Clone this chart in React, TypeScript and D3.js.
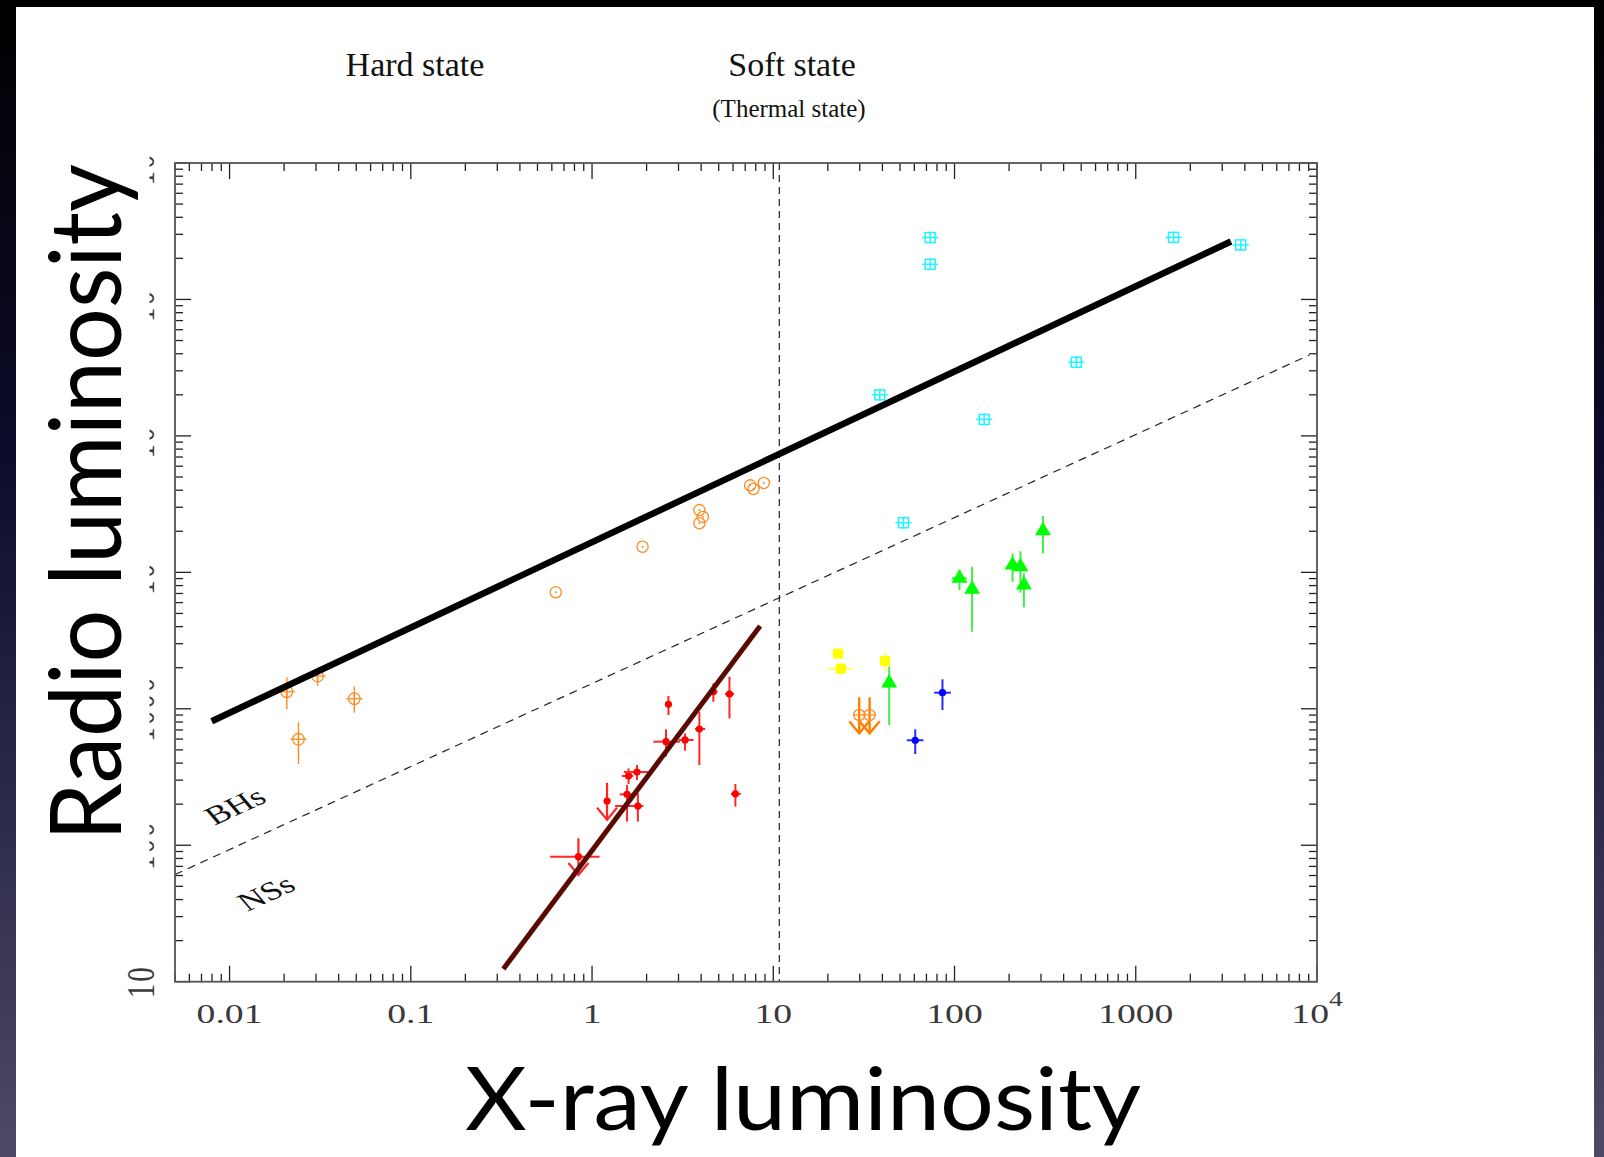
import React from "react";
import * as d3 from "d3";

const W = 1604;
const H = 1157;

// Axis ticks and their labels
const xTickValues = [0.01, 0.1, 1, 10, 100, 1000, 10000];
const xTickLabels = [["0.01", ""], ["0.1", ""], ["1", ""], ["10", ""], ["100", ""], ["1000", ""], ["10", "4"]];
const yTickValues = [10, 100, 1000, 1e4, 1e5, 1e6, 1e7];
const yTickLabels = [["10", ""], ["100", ""], ["1000", ""], ["10", "4"], ["10", "5"], ["10", "6"], ["10", "7"]];

// Hard-state black holes (circle with central dot)
const hardBH = [
  { x: 0.631, y: 7140 }, { x: 1.9, y: 15400 }, { x: 3.91, y: 28600 }, { x: 4.09, y: 25500 },
  { x: 3.91, y: 22900 }, { x: 7.45, y: 43400 }, { x: 7.78, y: 40800 }, { x: 8.87, y: 45200 },
];

// Low-luminosity black holes (circled cross) with error bars
const lowBH = [
  { x: 0.0207, y: 1334, ylo: 991, yhi: 1702 },
  { x: 0.0306, y: 1739, ylo: 1476, yhi: 1982 },
  { x: 0.0488, y: 1186, ylo: 936, yhi: 1452 },
  { x: 0.024, y: 598, ylo: 394, yhi: 796 },
];

// Cyan squared-cross sources
const cyanSrc = [
  { x: 73.4, y: 2.84e6 }, { x: 73.4, y: 1.81e6 }, { x: 1616, y: 2.85e6 }, { x: 3795, y: 2.51e6 },
  { x: 470, y: 3.47e5 }, { x: 38.7, y: 2.0e5 }, { x: 145.8, y: 1.32e5 }, { x: 52.2, y: 23100 },
];

// Hard-state neutron stars (red dots)
const redNS = [
  { x: 2.64, y: 1079, ylo: 901, yhi: 1241 },
  { x: 2.56, y: 574, xlo: 2.18, xhi: 3.06, ylo: 446, yhi: 708 },
  { x: 3.26, y: 591, xlo: 3.0, xhi: 3.63, ylo: 493, yhi: 661 },
  { x: 3.91, y: 711, xlo: 3.7, xhi: 4.21, ylo: 387, yhi: 952 },
  { x: 4.67, y: 1334, xlo: 4.48, xhi: 4.92, ylo: 1127, yhi: 1538 },
  { x: 5.73, y: 1283, xlo: 5.42, xhi: 6.08, ylo: 851, yhi: 1718 },
  { x: 6.18, y: 238, xlo: 5.83, xhi: 6.62, ylo: 192, yhi: 281 },
  { x: 1.59, y: 322, xlo: 1.46, xhi: 1.69, ylo: 281, yhi: 366 },
  { x: 1.77, y: 344, xlo: 1.5, xhi: 2.05, ylo: 301, yhi: 387 },
  { x: 1.56, y: 236, xlo: 1.42, xhi: 1.71, ylo: 149, yhi: 277 },
  { x: 1.79, y: 194, xlo: 1.34, xhi: 1.92, ylo: 149, yhi: 240 },
];

// Neutron-star upper limits (arrow points down to tip)
const redLimits = [
  { x: 1.21, y: 211, top: 287, tip: 154 },
  { x: 0.841, y: 82.4, xlo: 0.587, xhi: 1.1, top: 112.5, tip: 60.5 },
];

// Green triangles
const greenSrc = [
  { x: 106.5, y: 9040, xlo: 96.7, xhi: 117, ylo: 7430, yhi: 10400 },
  { x: 125, y: 7510, ylo: 3670, yhi: 11000 },
  { x: 209, y: 11300, ylo: 8540, yhi: 13800 },
  { x: 231, y: 11000, ylo: 7100, yhi: 14300 },
  { x: 241.5, y: 8080, ylo: 5540, yhi: 9840 },
  { x: 307.5, y: 20200, ylo: 13800, yhi: 25900 },
  { x: 43.6, y: 1545, ylo: 761, yhi: 2036 },
];

// Yellow squares
const yellowSrc = [
  { x: 22.8, y: 2535, xlo: 20.9, xhi: 24.4 },
  { x: 23.6, y: 1968, xlo: 20.1, xhi: 27.4, ylo: 1770, yhi: 2178 },
  { x: 41.4, y: 2240, ylo: 1901, yhi: 2577 },
];

// Blue dots
const blueSrc = [
  { x: 85.8, y: 1312, xlo: 77.2, xhi: 95.5, ylo: 980, yhi: 1645 },
  { x: 60.7, y: 588, xlo: 54.6, xhi: 67.4, ylo: 466, yhi: 708 },
];

// Soft-state black-hole upper limits
const orangeLimits = [
  { x: 29.8, y: 901, top: 1214, tip: 661 },
  { x: 34.0, y: 901, top: 1214, tip: 661 },
];

// Correlation lines
const bhCorrelation = [{ x: 0.00797, y: 811 }, { x: 3350, y: 2.66e6 }];
const bhNsDivide = [{ x: 0.005, y: 61 }, { x: 9100, y: 3.92e5 }];
const nsCorrelation = [{ x: 0.324, y: 12.4 }, { x: 8.46, y: 4045 }];
const stateBoundary = 10.8;

const X0 = 175, X1 = 1317, Y0 = 981.7, Y1 = 163;
const xS = d3.scaleLog().domain([0.005, 1e4]).range([X0, X1]);
const yS = d3.scaleLog().domain([10, 1e7]).range([Y0, Y1]);
const lineGen = d3.line<{ x: number; y: number }>().x((d) => xS(d.x)).y((d) => yS(d.y));

const isMajor = (v: number) => Math.abs(Math.log10(v) - Math.round(Math.log10(v))) < 1e-6;

type P = { x: number; y: number; xlo?: number; xhi?: number; ylo?: number; yhi?: number };

function ErrBars({ d, color, w = 1.6 }: { d: P; color: string; w?: number }) {
  const cx = xS(d.x), cy = yS(d.y);
  return (
    <g stroke={color} strokeWidth={w}>
      {d.xlo != null && d.xhi != null && <line x1={xS(d.xlo)} x2={xS(d.xhi)} y1={cy} y2={cy} />}
      {d.ylo != null && d.yhi != null && <line x1={cx} x2={cx} y1={yS(d.ylo)} y2={yS(d.yhi)} />}
    </g>
  );
}

function Arrow({ x, top, tip, color, w, hw, hh }: { x: number; top: number; tip: number; color: string; w: number; hw: number; hh: number }) {
  const px = xS(x), t = yS(tip);
  return (
    <g stroke={color} strokeWidth={w} fill="none">
      <line x1={px} x2={px} y1={yS(top)} y2={t} />
      <polyline points={`${px - hw},${t - hh} ${px},${t} ${px + hw},${t - hh}`} />
    </g>
  );
}

export default function App() {
  const ticks = xS.ticks();
  const yticks = yS.ticks();
  const serif = "'Liberation Serif', 'Times New Roman', serif";
  const STRETCH = 1.37;
  return (
    <svg width={W} height={H} style={{ position: "absolute", left: 0, top: 0 }} xmlns="http://www.w3.org/2000/svg">
      <defs>
        <linearGradient id="bg" x1="0" y1="0" x2="0" y2="1">
          <stop offset="0" stopColor="#000000" />
          <stop offset="0.4" stopColor="#0d0c2c" />
          <stop offset="1" stopColor="#4c4a66" />
        </linearGradient>
      </defs>
      <rect x={0} y={0} width={W} height={H} fill="url(#bg)" />
      <rect x={16} y={7} width={1578} height={H - 7} fill="#ffffff" />

      {/* state headings */}
      <g fontFamily={serif} fill="#111" textAnchor="middle">
        <text x={415} y={76} fontSize={34}>Hard state</text>
        <text x={792} y={76} fontSize={34}>Soft state</text>
        <text x={789} y={116.5} fontSize={25}>(Thermal state)</text>
      </g>

      {/* y tick labels */}
      <g fontFamily={serif} fill="#3a3a3a">
        {yTickValues.map((v, i) => (
          <g key={"yl" + i} transform={`translate(153.5,${yS(v)}) scale(${STRETCH},1) rotate(-90)`}>
            <text textAnchor="middle" fontSize={29} letterSpacing={2}>
              {yTickLabels[i][0]}
              {yTickLabels[i][1] && <tspan dy={-12} fontSize={20}>{yTickLabels[i][1]}</tspan>}
            </text>
          </g>
        ))}
      </g>
      {/* panel behind the vertical axis title */}
      <rect x={16} y={140} width={133.5} height={812} fill="#ffffff" />

      {/* vertical state boundary */}
      <line x1={xS(stateBoundary)} x2={xS(stateBoundary)} y1={Y1} y2={Y0} stroke="#222" strokeWidth={1.2} strokeDasharray="7,5" />
      {/* BH / NS dividing line */}
      <path d={lineGen(bhNsDivide) || ""} stroke="#222" strokeWidth={1.2} strokeDasharray="8,6" fill="none" />

      {/* ticks */}
      <g stroke="#222" strokeWidth={1.3}>
        {ticks.map((v, i) => {
          const L = isMajor(v) ? 16 : 8;
          const px = xS(v);
          return (
            <g key={"xt" + i}>
              <line x1={px} x2={px} y1={Y0} y2={Y0 - L} />
              <line x1={px} x2={px} y1={Y1} y2={Y1 + L} />
            </g>
          );
        })}
        {yticks.map((v, i) => {
          const L = isMajor(v) ? 16 : 8;
          const py = yS(v);
          return (
            <g key={"yt" + i}>
              <line x1={X0} x2={X0 + L} y1={py} y2={py} />
              <line x1={X1} x2={X1 - L} y1={py} y2={py} />
            </g>
          );
        })}
      </g>
      <rect x={X0} y={Y1} width={X1 - X0} height={Y0 - Y1} fill="none" stroke="#555" strokeWidth={1.8} />

      {/* x tick labels */}
      <g fontFamily={serif} fill="#3a3a3a">
        {xTickValues.map((v, i) => (
          <g key={"xl" + i} transform={`translate(${xS(v)},1023) scale(${STRETCH},1)`}>
            <text textAnchor="middle" fontSize={27.5}>
              {xTickLabels[i][0]}
              {xTickLabels[i][1] && <tspan dy={-17} fontSize={20}>{xTickLabels[i][1]}</tspan>}
            </text>
          </g>
        ))}
      </g>

      {/* low-luminosity BHs */}
      {lowBH.map((d, i) => (
        <g key={"lb" + i} stroke="#ff8a1e" strokeWidth={1.3} fill="none">
          <ErrBars d={d} color="#ff8a1e" w={1.4} />
          <circle cx={xS(d.x)} cy={yS(d.y)} r={5.8} />
          <line x1={xS(d.x) - 8} x2={xS(d.x) + 8} y1={yS(d.y)} y2={yS(d.y)} />
          <line x1={xS(d.x)} x2={xS(d.x)} y1={yS(d.y) - 6} y2={yS(d.y) + 6} />
        </g>
      ))}

      {/* hard-state BHs */}
      {hardBH.map((d, i) => (
        <g key={"hb" + i}>
          <circle cx={xS(d.x)} cy={yS(d.y)} r={5.6} fill="none" stroke="#ff8a1e" strokeWidth={1.3} />
          <circle cx={xS(d.x)} cy={yS(d.y)} r={1} fill="#ff8a1e" />
        </g>
      ))}

      {/* cyan sources */}
      {cyanSrc.map((d, i) => {
        const cx = xS(d.x), cy = yS(d.y);
        return (
          <g key={"cy" + i} stroke="#22f4ff" strokeWidth={1.5} fill="none">
            <rect x={cx - 5} y={cy - 5} width={10} height={10} />
            <line x1={cx - 8} x2={cx + 8} y1={cy} y2={cy} />
            <line x1={cx} x2={cx} y1={cy - 6} y2={cy + 6} />
          </g>
        );
      })}

      {/* soft-state BH upper limits */}
      {orangeLimits.map((d, i) => (
        <g key={"ol" + i}>
          <Arrow x={d.x} top={d.top} tip={d.tip} color="#ff8000" w={2.4} hw={10} hh={12} />
          <circle cx={xS(d.x)} cy={yS(d.y)} r={5.6} fill="none" stroke="#ff8a1e" strokeWidth={1.3} />
          <line x1={xS(d.x) - 6} x2={xS(d.x) + 6} y1={yS(d.y)} y2={yS(d.y)} stroke="#ff8a1e" strokeWidth={1.2} />
        </g>
      ))}

      {/* yellow squares */}
      {yellowSrc.map((d, i) => (
        <g key={"ye" + i}>
          <ErrBars d={d} color="#ffff66" w={2} />
          <rect x={xS(d.x) - 5} y={yS(d.y) - 5} width={10} height={10} fill="#ffff00" />
        </g>
      ))}

      {/* green triangles */}
      {greenSrc.map((d, i) => {
        const cx = xS(d.x), cy = yS(d.y);
        return (
          <g key={"gr" + i}>
            <ErrBars d={d} color="#44ee44" w={2} />
            <polygon points={`${cx},${cy - 9} ${cx + 8},${cy + 4.5} ${cx - 8},${cy + 4.5}`} fill="#00ff00" />
          </g>
        );
      })}

      {/* blue dots */}
      {blueSrc.map((d, i) => (
        <g key={"bl" + i}>
          <ErrBars d={d} color="#2a2aff" w={2} />
          <circle cx={xS(d.x)} cy={yS(d.y)} r={3.6} fill="#0000ff" />
        </g>
      ))}

      {/* hard-state NSs */}
      {redNS.map((d, i) => (
        <g key={"rn" + i}>
          <ErrBars d={d} color="#ff2626" w={2} />
          <circle cx={xS(d.x)} cy={yS(d.y)} r={3.6} fill="#ff0000" />
        </g>
      ))}
      {redLimits.map((d, i) => (
        <g key={"rl" + i}>
          <ErrBars d={d} color="#ff2626" w={2} />
          <Arrow x={d.x} top={d.top} tip={d.tip} color="#ff2626" w={2.2} hw={10} hh={12} />
          <circle cx={xS(d.x)} cy={yS(d.y)} r={3.6} fill="#ff0000" />
        </g>
      ))}

      {/* correlations */}
      <path d={lineGen(bhCorrelation) || ""} stroke="#000" strokeWidth={6.5} fill="none" />
      <path d={lineGen(nsCorrelation) || ""} stroke="#5a0a04" strokeWidth={5} fill="none" />

      {/* population labels */}
      <g fontFamily={serif} fill="#111" fontSize={26}>
        <g transform={`translate(235,806) scale(${STRETCH},1) rotate(-32)`}>
          <text textAnchor="middle" dominantBaseline="central">BHs</text>
        </g>
        <g transform={`translate(266,893) scale(${STRETCH},1) rotate(-32)`}>
          <text textAnchor="middle" dominantBaseline="central">NSs</text>
        </g>
      </g>

      {/* axis titles */}
      <g fontFamily="Lato, 'Open Sans', sans-serif" fill="#000">
        <text x={803} y={1130} fontSize={87} textAnchor="middle" textLength={676} lengthAdjust="spacingAndGlyphs">X-ray luminosity</text>
        <text transform="translate(121,502.5) rotate(-90)" fontSize={98} textAnchor="middle" textLength={677} lengthAdjust="spacingAndGlyphs">Radio luminosity</text>
      </g>
    </svg>
  );
}
